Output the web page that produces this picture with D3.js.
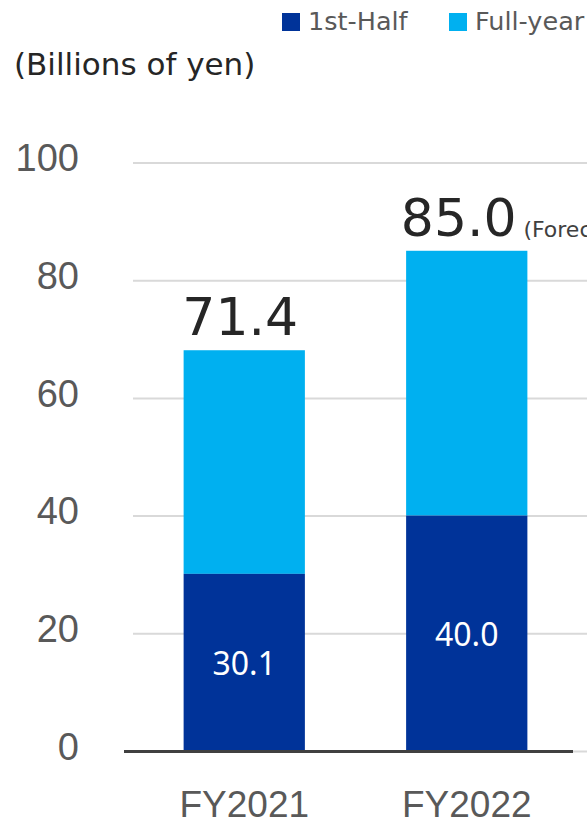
<!DOCTYPE html>
<html>
<head>
  <meta charset="utf-8">
  <title>Full-year vs 1st-Half</title>
  <script src="https://cdnjs.cloudflare.com/ajax/libs/d3/7.8.5/d3.min.js"></script>
  <style>
    body { margin: 0; background: #fff; }
    svg { display: block; font-family: "DejaVu Sans", Verdana, sans-serif; }
    .grid line { stroke: #d9d9d9; stroke-width: 2px; }
    .grid text { fill: #595959; font-size: 38px; }
    .xaxis text { fill: #595959; font-size: 37px; }
  </style>
</head>
<body>
  <div id="canvas"></div>
  <script>
    // data
    var years = ["FY2021", "FY2022"];
    var firstHalf = [30.1, 40.0];
    var fullYear = [68.1, 85.0];          // bar tops as drawn
    var fullYearLabels = ["71.4", "85.0"];
    var fullYearNotes = ["", "(Forecast)"];
    var yTicks = [0, 20, 40, 60, 80, 100];

    var width = 587, height = 829;

    var svg = d3.select("#canvas").append("svg")
      .attr("width", width)
      .attr("height", height);

    var x = d3.scaleBand()
      .domain(years)
      .range([133, 578])
      .paddingInner(0.455)
      .paddingOuter(0.2275);

    var y = d3.scaleLinear()
      .domain([0, 100])
      .range([751, 162.5]);

    // gridlines + y labels
    var grid = svg.append("g")
      .attr("class", "grid")
      .attr("transform", "translate(133,0)")
      .call(d3.axisLeft(y).tickValues(yTicks).tickSize(-454).tickPadding(54));
    grid.select(".domain").remove();
    grid.selectAll("text").attr("dy", "0.22em");

    var rows = years.map(function (d, i) {
      return { year: d, half: firstHalf[i], full: fullYear[i], label: fullYearLabels[i], note: fullYearNotes[i] };
    });

    // full-year part (on top of the first half)
    svg.append("g").selectAll("rect")
      .data(rows)
      .enter().append("rect")
      .attr("x", function (d) { return x(d.year); })
      .attr("width", x.bandwidth())
      .attr("y", function (d) { return y(d.full); })
      .attr("height", function (d) { return y(d.half) - y(d.full); })
      .attr("fill", "#00b0f0");

    // first half
    svg.append("g").selectAll("rect")
      .data(rows)
      .enter().append("rect")
      .attr("x", function (d) { return x(d.year); })
      .attr("width", x.bandwidth())
      .attr("y", function (d) { return y(d.half); })
      .attr("height", function (d) { return y(0) - y(d.half); })
      .attr("fill", "#003399");

    // baseline
    svg.append("line")
      .attr("x1", 124).attr("x2", 573)
      .attr("y1", y(0) + 0.5).attr("y2", y(0) + 0.5)
      .attr("stroke", "#404040")
      .attr("stroke-width", 3);

    // category labels
    var xa = svg.append("g")
      .attr("class", "xaxis")
      .attr("transform", "translate(0," + y(0) + ")")
      .call(d3.axisBottom(x).tickSize(0).tickPadding(40));
    xa.select(".domain").remove();

    // first-half values inside bars
    svg.append("g").selectAll("text")
      .data(rows)
      .enter().append("text")
      .attr("x", function (d) { return x(d.year) + x.bandwidth() / 2; })
      .attr("y", function (d) { return (y(0) + y(d.half)) / 2 + 13; })
      .attr("text-anchor", "middle")
      .attr("fill", "#fff")
      .style("font-family", "'Noto Sans', 'Open Sans', sans-serif")
      .style("font-size", "32px")
      .text(function (d) { return d.half.toFixed(1); });

    // full-year totals above bars
    var tops = svg.append("g").selectAll("g")
      .data(rows)
      .enter().append("g");

    tops.append("text")
      .attr("x", function (d) { return x(d.year) + x.bandwidth() / 2 - (d.note ? 8 : 4); })
      .attr("y", function (d) { return y(d.full) - 15; })
      .attr("text-anchor", "middle")
      .attr("fill", "#262626")
      .style("font-size", "52px")
      .text(function (d) { return d.label; });

    // note runs off the right edge, as in the source
    tops.filter(function (d) { return d.note; })
      .append("text")
      .attr("x", function (d) { return x(d.year) + x.bandwidth() - 4; })
      .attr("y", function (d) { return y(d.full) - 14; })
      .attr("fill", "#404040")
      .style("font-size", "22px")
      .text(function (d) { return d.note; });

    // units
    svg.append("text")
      .attr("x", 14)
      .attr("y", 75)
      .attr("fill", "#262626")
      .style("font-size", "31px")
      .text("(Billions of yen)");

    // legend
    var legendItems = [
      { name: "1st-Half", color: "#003399", x: 282 },
      { name: "Full-year", color: "#00b0f0", x: 449 }
    ];
    var lg = svg.append("g").selectAll("g")
      .data(legendItems)
      .enter().append("g")
      .attr("transform", function (d) { return "translate(" + d.x + ",13)"; });
    lg.append("rect")
      .attr("width", 18).attr("height", 18)
      .attr("fill", function (d) { return d.color; });
    lg.append("text")
      .attr("x", 26)
      .attr("y", 17)
      .attr("fill", "#595959")
      .style("font-size", "25.5px")
      .text(function (d) { return d.name; });
  </script>
</body>
</html>
